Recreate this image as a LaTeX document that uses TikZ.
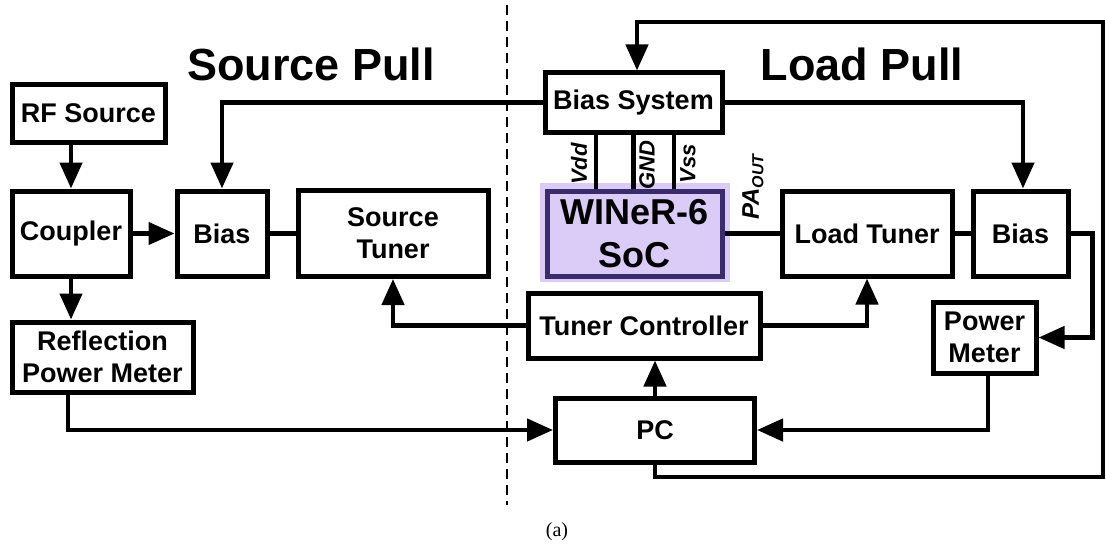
\documentclass[tikz,border=0pt]{standalone}
\usepackage{fontspec}
\setmainfont{Liberation Sans}
\newfontfamily\capfont{Liberation Serif}
\usetikzlibrary{arrows.meta}
\definecolor{socedge}{RGB}{58,44,108}
\definecolor{sochaze}{RGB}{218,204,247}
\tikzset{
  blk/.style={draw, line width=5pt, fill=white, inner sep=0pt, align=center,
    font=\fontsize{27}{32}\selectfont\bfseries},
  wire/.style={line width=4.5pt},
  arr/.style={line width=4.5pt, -{Triangle[length=26pt,width=22pt]}},
  title/.style={font=\fontsize{45}{47}\selectfont\bfseries},
  pin/.style={rotate=90, inner sep=0pt, font=\fontsize{22}{22}\selectfont\bfseries\itshape},
}
\begin{document}
\begin{tikzpicture}[x=1pt,y=-1pt]
\useasboundingbox (0,0) rectangle (1106,551);

% divider between the two halves
\draw[line width=2.5pt, dash pattern=on 10pt off 6pt] (507,5) -- (507,505);

\node[title] (tsrc) at (311,64) {Source Pull};
\node[title] (tload) at (862,64) {Load Pull};

% source-pull side
\node[blk, minimum width=153pt, minimum height=57pt] (rf) at (88.5,113.5) {RF Source};
\node[blk, minimum width=118pt, minimum height=85pt] (coupler) at (71,233.5) {Coupler};
\node[blk, minimum width=90pt, minimum height=85pt] (biasL) at (222,233.5) {Bias};
\node[blk, minimum width=190pt, minimum height=86pt] (stuner) at (393,233.5) {Source\\Tuner};
\node[blk, minimum width=181pt, minimum height=70pt] (refl) at (102.5,357) {Reflection\\Power Meter};

% load-pull side
\node[blk, minimum width=177pt, minimum height=59pt] (biassys) at (633.5,102.5) {Bias System};
\fill[sochaze] (540,183) rectangle (730,282);
\node[blk, draw=socedge, fill=sochaze, minimum width=175pt, minimum height=85pt,
  font=\fontsize{36}{43}\selectfont\bfseries] (soc) at (634.5,233.5) {WINeR-6\\SoC};
\node[blk, minimum width=170pt, minimum height=85pt] (ltuner) at (867,233.5) {Load Tuner};
\node[blk, minimum width=95pt, minimum height=85pt] (biasR) at (1020.5,233.5) {Bias};
\node[blk, minimum width=103pt, minimum height=71pt] (pmeter) at (984.5,337.5) {Power\\Meter};
\node[blk, minimum width=232pt, minimum height=65pt] (tctrl) at (644,325.5) {Tuner Controller};
\node[blk, minimum width=199pt, minimum height=64pt] (pc) at (655,430) {PC};

% supply rails from the bias system to the chip
\draw[wire] ([xshift=-37.5pt]biassys.south) -- ([xshift=-37.5pt]biassys.south |- soc.north);
\draw[wire] (biassys.south) -- (biassys.south |- soc.north);
\draw[wire] ([xshift=40.5pt]biassys.south) -- ([xshift=40.5pt]biassys.south |- soc.north);
\node[pin] (vdd) at (579,164) {Vdd};
\node[pin] (gnd) at (647,165) {GND};
\node[pin] (vss) at (688,164) {Vss};
\node[pin] (paout) at (753,187) {\fontsize{24}{24}\selectfont PA\raisebox{-0.35ex}{\fontsize{16}{16}\selectfont OUT}};

% signal path
\draw[arr] (rf.south -| coupler.north) -- (coupler.north);
\draw[arr] (coupler.east) -- (biasL.west);
\draw[wire] (biasL.east) -- (stuner.west);
\draw[arr] (coupler.south) -- (coupler.south |- refl.north);
\draw[wire] (soc.east) -- (ltuner.west);
\draw[wire] (ltuner.east) -- (biasR.west);

% bias feeds
\draw[arr] (biassys.west) -| (biasL.north);
\draw[arr] (biassys.east) -| ([xshift=2.5pt]biasR.north);

% tuner control
\draw[arr] (tctrl.west) -| (stuner.south);
\draw[arr] (tctrl.east) -| (ltuner.south);
\draw[arr] (pc.north) -- (pc.north |- tctrl.south);

% measurement paths
\draw[arr] ([xshift=-34.5pt]refl.south) |- (pc.west);
\draw[arr] ([xshift=3.5pt]pmeter.south) |- (pc.east);
\draw[arr] (biasR.east) -- ++(22,0) |- (pmeter.east);

% PC feedback loop to the bias system
\coordinate (loopSE) at (1103,477);
\coordinate (loopNE) at (1103,22);
\draw[arr, line join=miter] (pc.south) |- (loopSE) -- (loopNE) -| ([xshift=3.5pt]biassys.north);

\node[font=\capfont\fontsize{20}{20}\selectfont] (cap) at (557,532) {(a)};
\end{tikzpicture}
\end{document}
